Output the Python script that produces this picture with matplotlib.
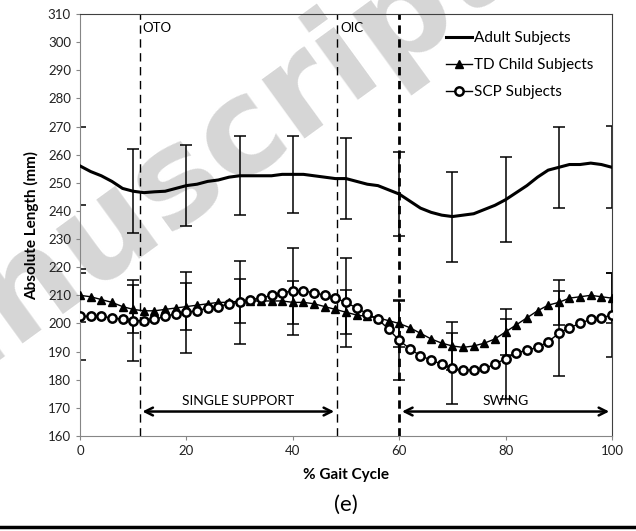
import matplotlib
matplotlib.use('Agg')
from matplotlib import pyplot as plt
from matplotlib.lines import Line2D

plt.rcParams['font.family'] = ['Lato', 'DejaVu Sans']

gait = list(range(0, 101, 2))

adult = [256, 254, 252.5, 250.5, 248, 247, 246.5, 246.8, 247, 248,
         249, 249.5, 250.5, 251, 252, 252.5, 252.5, 252.5, 252.5, 253,
         253, 253, 252.5, 252, 251.5, 251.5, 250.5, 249.5, 249, 247.5,
         246, 243.5, 241, 239.5, 238.5, 238, 238.5, 239, 240.5, 242,
         244, 246.5, 249, 252, 254.5, 255.5, 256.5, 256.5, 257, 256.5, 255.5]

td_child = [210, 209.5, 208.5, 207.5, 206, 205, 204.5, 204.5, 205, 205.5,
            206, 206.5, 207, 207.5, 207.5, 208, 208, 208, 208, 208,
            207.5, 207.5, 207, 206, 205, 204, 203, 202.5, 202, 201,
            200, 198.5, 196.5, 194.5, 193, 192, 191.5, 192, 193, 194.5,
            197, 199.5, 202, 204.5, 206.5, 207.5, 209, 209.5, 210, 209.5, 209]

scp = [202.5, 202.5, 202.5, 202, 201.5, 201, 201, 201.5, 202.5, 203.5,
       204, 204.5, 205.5, 206, 207, 207.5, 208.5, 209, 210, 211,
       211.5, 211.5, 211, 210, 209, 207.5, 205.5, 203.5, 201.5, 198,
       194, 191, 188.5, 187, 185.5, 184, 183.5, 183.5, 184, 185.5,
       187.5, 189.5, 190.5, 191.5, 193.5, 196.5, 198.5, 200, 201.5, 202, 203]

# standard deviations, shown every 10 %
err_x = list(range(0, 101, 10))
adult_sd = [14, 15, 14.5, 14, 13.7, 14.3, 15, 16, 15, 14.3, 14.6]
td_sd = [9.5, 8.5, 8.4, 7.8, 7.7, 7.8, 8.5, 8.6, 8.3, 8.1, 9]
scp_sd = [15.5, 14.5, 14.4, 14.7, 15.5, 15.8, 14, 12.5, 14.2, 15.2, 15]

events = {'OTO': 11.2, 'OIC': 48.3}
swing_start = 60


def every10(vals):
    return [vals[gait.index(x)] for x in err_x]


fig = plt.figure(figsize=(6.36, 5.31), dpi=100)
ax = fig.add_axes([80 / 636, 95 / 531, 532 / 636, 422 / 531])
ax.patch.set_visible(False)

# watermark, behind everything in the axes (incl. the axis labels)
ax.text(0.13, 0.565, 'manuscript', transform=ax.transAxes, fontsize=96,
        fontweight='bold', color='#d6d6d6', rotation=36, ha='center', va='center',
        family='DejaVu Sans', zorder=0, clip_on=False)

ax.plot(gait, adult, color='black', lw=2.2, label='Adult Subjects', zorder=3)
ax.plot(gait, td_child, color='black', lw=1, marker='^', ms=5.5, mfc='black',
        label='TD Child Subjects', zorder=4)
ax.plot(gait, scp, color='black', lw=1, marker='o', ms=6, mfc='white', mew=1.8,
        label='SCP Subjects', zorder=4)

for vals, sd in [(adult, adult_sd), (td_child, td_sd), (scp, scp_sd)]:
    ax.errorbar(err_x, every10(vals), yerr=sd, fmt='none', ecolor='black',
                elinewidth=1.1, capsize=4, capthick=1.1, zorder=2)

for name, x in events.items():
    ax.axvline(x, color='black', lw=1, ls=(0, (6, 4)), zorder=1)
    ax.text(x + 0.6, 307, name, fontsize=9.5, va='top', ha='left')
ax.axvline(swing_start, color='black', lw=2, ls=(0, (3, 2)), zorder=1)

arrow = dict(arrowstyle='<->', color='black', lw=1.8, mutation_scale=14)
ax.annotate('', xy=(events['OTO'], 168.7), xytext=(events['OIC'], 168.7), arrowprops=arrow)
ax.annotate('', xy=(swing_start, 168.7), xytext=(100, 168.7), arrowprops=arrow)
ax.text((events['OTO'] + events['OIC']) / 2, 170.3, 'SINGLE SUPPORT', fontsize=10,
        ha='center', va='bottom')
ax.text(80, 170.3, 'SWING', fontsize=10, ha='center', va='bottom')

ax.set_xlim(0, 100)
ax.set_ylim(160, 310)
ax.set_xticks(range(0, 101, 20))
ax.set_yticks(range(160, 311, 10))
ax.tick_params(labelsize=9.5, length=3, color='#868686', direction='out', labelcolor='#222222')
for side in ['left', 'bottom']:
    ax.spines[side].set_color('#868686')
for side in ['top', 'right']:
    ax.spines[side].set_color('#404040')

ax.set_xlabel('% Gait Cycle', fontsize=11, fontweight='bold', labelpad=8)
ax.set_ylabel('Absolute Length (mm)', fontsize=11, fontweight='bold', labelpad=6)

ax.legend(loc='upper right', bbox_to_anchor=(0.985, 0.985), frameon=False, fontsize=11,
          handlelength=1.7, handletextpad=0.1, labelspacing=0.85, borderaxespad=0.3)

fig.text(0.544, 0.049, '(e)', fontsize=16, ha='center', va='center')
fig.add_artist(Line2D([0, 1], [0.008, 0.008], color='black', lw=2.5, transform=fig.transFigure))

fig.savefig('out.png', dpi=100)
